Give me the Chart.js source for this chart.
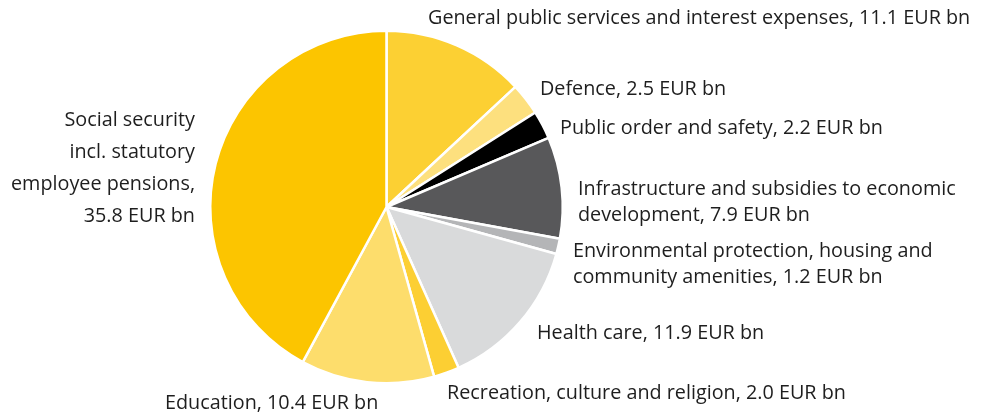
<!DOCTYPE html>
<html>
<head>
<meta charset="utf-8">
<script src="https://cdn.jsdelivr.net/npm/chart.js@4"></script>
<style>
    html, body { margin: 0; padding: 0; background: #fff; }
    #wrap { width: 981px; height: 418px; position: relative; }
</style>
</head>
<body>
<div id="wrap"><canvas id="budget-pie"></canvas></div>
<script>
// Expenditure categories, clockwise from 12 o'clock
const categories = [
    'General public services and interest expenses',
    'Defence',
    'Public order and safety',
    'Infrastructure and subsidies to economic development',
    'Environmental protection, housing and community amenities',
    'Health care',
    'Recreation, culture and religion',
    'Education',
    'Social security incl. statutory employee pensions'
];
const values = [11.1, 2.5, 2.2, 7.9, 1.2, 11.9, 2.0, 10.4, 35.8];
const sliceColors = ['#FCD033', '#FDE07E', '#000000', '#58585A', '#B4B5B7', '#D9DADB', '#FCCF33', '#FDDD6C', '#FCC500'];

// Label text, already broken into lines as in the original
const labelLines = [
    ['General public services and interest expenses, 11.1 EUR bn'],
    ['Defence, 2.5 EUR bn'],
    ['Public order and safety, 2.2 EUR bn'],
    ['Infrastructure and subsidies to economic', 'development, 7.9 EUR bn'],
    ['Environmental protection, housing and', 'community amenities, 1.2 EUR bn'],
    ['Health care, 11.9 EUR bn'],
    ['Recreation, culture and religion, 2.0 EUR bn'],
    ['Education, 10.4 EUR bn'],
    ['Social security', 'incl. statutory', 'employee pensions,', '35.8 EUR bn']
];

// where each label block sits: x, y of first line, alignment, line spacing
const labelPlaces = [
    { x: 428, y: 18, align: 'left', lh: 26 },
    { x: 540, y: 89, align: 'left', lh: 26 },
    { x: 560, y: 128, align: 'left', lh: 26 },
    { x: 578, y: 189, align: 'left', lh: 26 },
    { x: 573, y: 251, align: 'left', lh: 26 },
    { x: 537, y: 333, align: 'left', lh: 26 },
    { x: 447, y: 393, align: 'left', lh: 26 },
    { x: 165, y: 403, align: 'left', lh: 26 },
    { x: 195, y: 120, align: 'right', lh: 32 }
];

const sliceLabels = {
    id: 'sliceLabels',
    afterDraw(chart) {
        const ctx = chart.ctx;
        ctx.save();
        ctx.font = '19.8px "Open Sans", sans-serif';
        ctx.fillStyle = '#1e1e1e';
        ctx.textBaseline = 'middle';
        labelLines.forEach((lines, i) => {
            const p = labelPlaces[i];
            ctx.textAlign = p.align;
            lines.forEach((t, j) => ctx.fillText(t, p.x, p.y + j * p.lh));
        });
        ctx.restore();
    }
};

new Chart(document.getElementById('budget-pie'), {
    type: 'pie',
    data: {
        labels: categories,
        datasets: [{
            data: values,
            backgroundColor: sliceColors,
            borderColor: '#ffffff',
            borderWidth: 2.5
        }]
    },
    options: {
        responsive: true,
        maintainAspectRatio: false,
        animation: false,
        layout: {
            padding: { left: 209, right: 417, top: 29, bottom: 33 }
        },
        plugins: {
            legend: { display: false },
            tooltip: { enabled: false }
        }
    },
    plugins: [sliceLabels]
});
</script>
</body>
</html>
